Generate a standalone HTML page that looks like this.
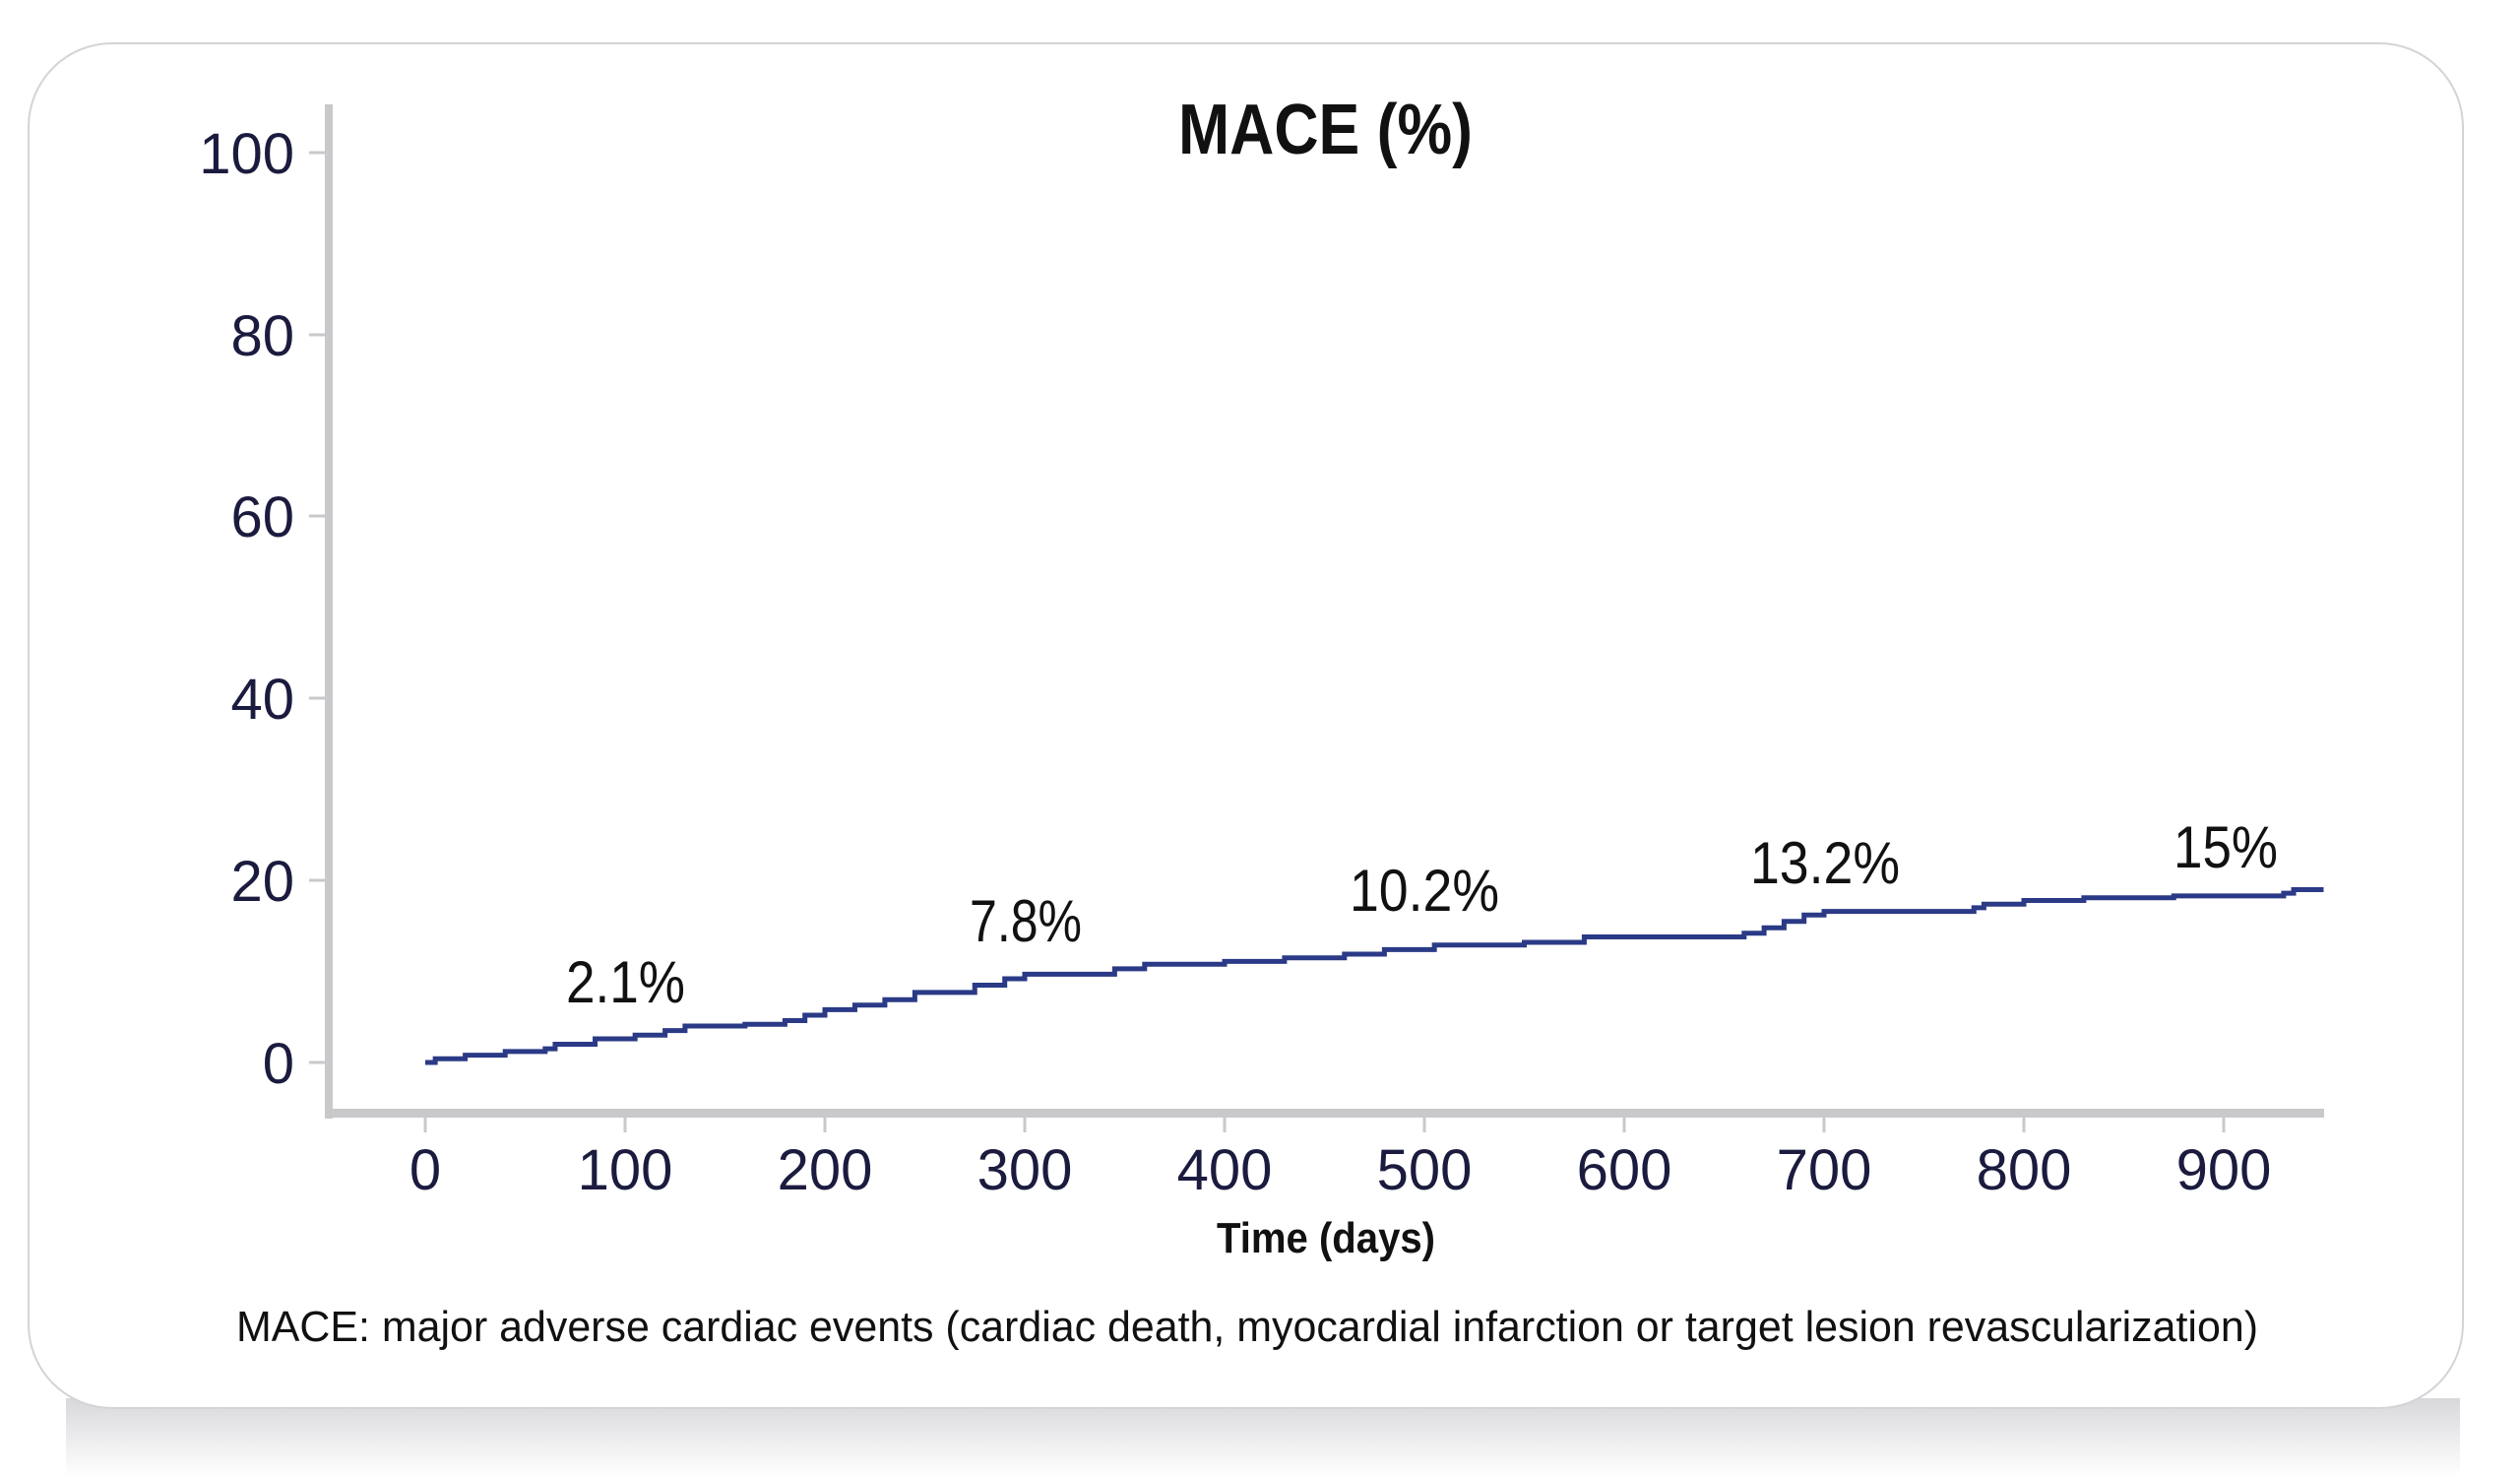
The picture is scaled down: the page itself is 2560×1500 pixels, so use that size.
<!DOCTYPE html>
<html><head><meta charset="utf-8"><style>
html,body{margin:0;padding:0;background:#fff;width:2560px;height:1500px;overflow:hidden}
</style></head><body>
<svg width="2560" height="1500" viewBox="0 0 2560 1500" xmlns="http://www.w3.org/2000/svg">
<defs>
<linearGradient id="sh" x1="0" y1="0" x2="0" y2="1">
<stop offset="0" stop-color="#d8d8dc"/><stop offset="1" stop-color="#ffffff"/>
</linearGradient>
</defs>
<rect x="67" y="1420" width="2432" height="80" fill="url(#sh)"/>
<rect x="29" y="44" width="2473" height="1386" rx="85" ry="85" fill="#fff" stroke="#d4d4d8" stroke-width="2"/>
<g font-family="'Liberation Sans Narrow','Liberation Sans',sans-serif" fill="#1b1b3f">
<rect x="330" y="106" width="8" height="1030" fill="#c9c9cc"/>
<rect x="330" y="1126" width="2031" height="9" fill="#c9c9cc"/>
<g stroke="#c9c9cc" stroke-width="3">
<line x1="314" y1="1079" x2="330" y2="1079"/><line x1="314" y1="894" x2="330" y2="894"/>
<line x1="314" y1="709" x2="330" y2="709"/><line x1="314" y1="524" x2="330" y2="524"/>
<line x1="314" y1="340" x2="330" y2="340"/><line x1="314" y1="155" x2="330" y2="155"/>
<line x1="432" y1="1135" x2="432" y2="1150"/><line x1="635" y1="1135" x2="635" y2="1150"/>
<line x1="838" y1="1135" x2="838" y2="1150"/><line x1="1041" y1="1135" x2="1041" y2="1150"/>
<line x1="1244" y1="1135" x2="1244" y2="1150"/><line x1="1447" y1="1135" x2="1447" y2="1150"/>
<line x1="1650" y1="1135" x2="1650" y2="1150"/><line x1="1853" y1="1135" x2="1853" y2="1150"/>
<line x1="2056" y1="1135" x2="2056" y2="1150"/><line x1="2259" y1="1135" x2="2259" y2="1150"/>
</g>
<g font-size="58" text-anchor="end">
<text x="299" y="1100">0</text><text x="299" y="915">20</text><text x="299" y="730">40</text>
<text x="299" y="545">60</text><text x="299" y="361">80</text><text x="299" y="176">100</text>
</g>
<g font-size="58" text-anchor="middle">
<text x="432" y="1208">0</text><text x="635" y="1208">100</text><text x="838" y="1208">200</text>
<text x="1041" y="1208">300</text><text x="1244" y="1208">400</text><text x="1447" y="1208">500</text>
<text x="1650" y="1208">600</text><text x="1853" y="1208">700</text><text x="2056" y="1208">800</text>
<text x="2259" y="1208">900</text>
</g>
<text x="1197" y="156" font-size="72" font-weight="bold" fill="#111" textLength="299" lengthAdjust="spacingAndGlyphs">MACE (%)</text>
<text x="1236" y="1272" font-size="44" font-weight="bold" fill="#111" textLength="222" lengthAdjust="spacingAndGlyphs">Time (days)</text>
<text x="240" y="1362" font-size="44" fill="#111" textLength="2054" lengthAdjust="spacingAndGlyphs">MACE:  major adverse cardiac events (cardiac death, myocardial infarction or target lesion revascularization)</text>
<g font-size="60" fill="#111">
<text x="575" y="1018" textLength="121" lengthAdjust="spacingAndGlyphs">2.1%</text>
<text x="985" y="956" textLength="114" lengthAdjust="spacingAndGlyphs">7.8%</text>
<text x="1371" y="925" textLength="152" lengthAdjust="spacingAndGlyphs">10.2%</text>
<text x="1778" y="897" textLength="152" lengthAdjust="spacingAndGlyphs">13.2%</text>
<text x="2208" y="881" textLength="106" lengthAdjust="spacingAndGlyphs">15%</text>
</g>
</g>
<g transform="translate(432,1079) scale(2.03,-9.24)">
<path vector-effect="non-scaling-stroke" fill="none" stroke="#2b3a86" stroke-width="5"
d="M0 0 H5 V0.4 H20 V0.8 H40 V1.2 H60 V1.5 H65 V2 H85 V2.6 H105 V3 H120 V3.5 H130 V4 H160 V4.2 H180 V4.6 H190 V5.2 H200 V5.8 H215 V6.3 H230 V6.9 H245 V7.7 H275 V8.5 H290 V9.2 H300 V9.7 H345 V10.3 H360 V10.8 H400 V11.1 H430 V11.5 H460 V11.9 H480 V12.4 H505 V12.9 H550 V13.2 H580 V13.8 H660 V14.2 H670 V14.8 H680 V15.5 H690 V16.2 H700 V16.6 H775 V17 H780 V17.4 H800 V17.8 H830 V18.1 H875 V18.3 H930 V18.6 H935 V19 H950"/>
</g>
</svg>
</body></html>
